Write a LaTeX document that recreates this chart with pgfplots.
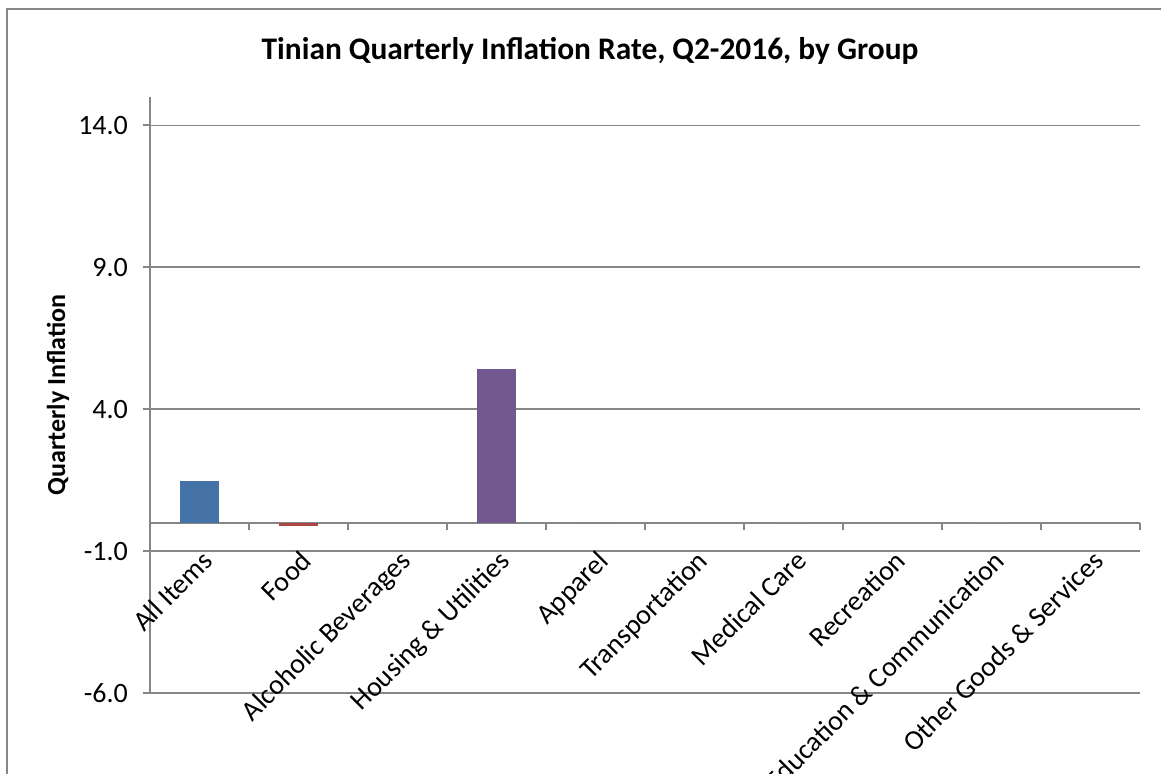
\documentclass[border=0pt]{standalone}
\usepackage{fontspec}
\setmainfont{Carlito}
\usepackage{pgfplots}
\pgfplotsset{compat=1.18}
\definecolor{axgray}{RGB}{134,134,134}
\definecolor{cblue}{RGB}{69,114,167}
\definecolor{cred}{RGB}{170,70,67}
\definecolor{cgreen}{RGB}{137,165,78}
\definecolor{cpurple}{RGB}{113,88,143}
\definecolor{caqua}{RGB}{65,152,175}
\definecolor{corange}{RGB}{219,132,61}
\definecolor{cblue2}{RGB}{147,169,207}
\definecolor{cred2}{RGB}{209,147,146}
\definecolor{cgreen2}{RGB}{185,205,150}
\definecolor{cpurple2}{RGB}{169,155,189}
\begin{document}
\begin{tikzpicture}
\useasboundingbox (-75pt,-40pt) rectangle (505.5pt,346.5pt);
\draw[axgray, line width=0.8pt] (-71.5pt,-45pt) -- (-71.5pt,342pt) -- (520pt,342pt);
\node[font=\bfseries\fontsize{15.7}{18}\selectfont, anchor=center] at (220pt,321pt) {Tinian Quarterly Inflation Rate, Q2-2016, by Group};
\begin{axis}[
  at={(0pt,0pt)}, anchor=south west,
  scale only axis, width=495pt, height=298pt,
  xmin=-0.5, xmax=9.5, ymin=-6, ymax=15,
  axis y line*=left, axis x line*=middle,
  axis line style={axgray, line width=1pt},
  tick align=outside,
  tick style={axgray, line width=1pt},
  major tick length=3.5pt,
  ytick={-6,-1,4,9,14},
  ymajorgrids, grid style={axgray, line width=0.8pt},
  yticklabel style={font=\fontsize{14}{16}\selectfont, text=black, xshift=-4pt},
  /pgf/number format/.cd, fixed, fixed zerofill, precision=1, assume math mode=true,
  /pgfplots/.cd,
  xtick={-0.5,0.5,1.5,2.5,3.5,4.5,5.5,6.5,7.5,8.5,9.5},
  xticklabels={,,,,,,,,,,},
  extra x ticks={0,1,2,3,4,5,6,7,8,9},
  extra x tick labels={All Items,Food,Alcoholic Beverages,Housing \& Utilities,Apparel,Transportation,Medical Care,Recreation,Education \& Communication,Other Goods \& Services},
  extra x tick style={major tick length=0pt, xticklabel style={rotate=45, anchor=north east, font=\fontsize{14}{16}\selectfont, text=black, yshift=-6pt, xshift=-5.5pt}},
  every axis y label/.style={at={(axis description cs:-0.0929,0.5)}, rotate=90, anchor=center},
  ylabel={Quarterly Inflation},
  ylabel style={font=\bfseries\fontsize{13}{15}\selectfont},
  clip=false,
]
\addplot[ybar, bar width=19.5pt, bar shift=0pt, fill=cblue, draw=none] coordinates {(0,1.46)};
\addplot[ybar, bar width=19.5pt, bar shift=0pt, fill=cred, draw=none] coordinates {(1,-0.12)};
\addplot[ybar, bar width=19.5pt, bar shift=0pt, fill=cgreen, draw=none] coordinates {(2,0)};
\addplot[ybar, bar width=19.5pt, bar shift=0pt, fill=cpurple, draw=none] coordinates {(3,5.40)};
\addplot[ybar, bar width=19.5pt, bar shift=0pt, fill=caqua, draw=none] coordinates {(4,0)};
\addplot[ybar, bar width=19.5pt, bar shift=0pt, fill=corange, draw=none] coordinates {(5,0)};
\addplot[ybar, bar width=19.5pt, bar shift=0pt, fill=cblue2, draw=none] coordinates {(6,0)};
\addplot[ybar, bar width=19.5pt, bar shift=0pt, fill=cred2, draw=none] coordinates {(7,0)};
\addplot[ybar, bar width=19.5pt, bar shift=0pt, fill=cgreen2, draw=none] coordinates {(8,0)};
\addplot[ybar, bar width=19.5pt, bar shift=0pt, fill=cpurple2, draw=none] coordinates {(9,0)};
\end{axis}
\end{tikzpicture}
\end{document}
